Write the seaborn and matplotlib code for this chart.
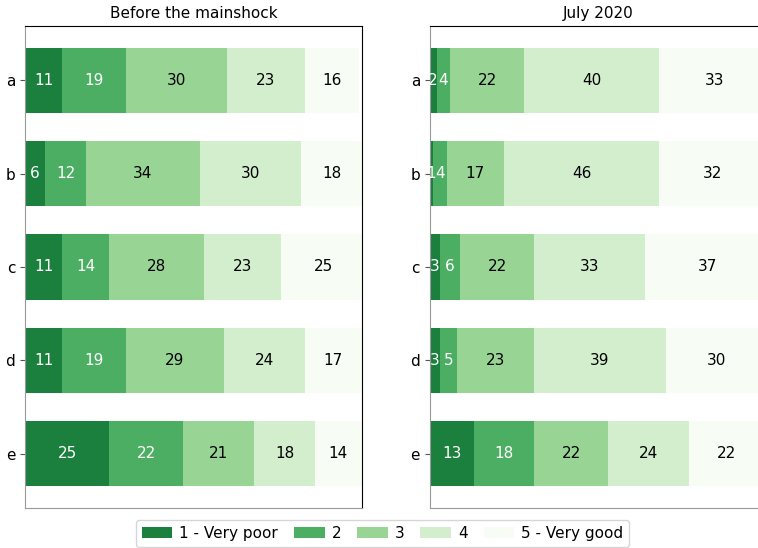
import numpy as np
import pandas as pd
import matplotlib
matplotlib.use("Agg")
import matplotlib.pyplot as plt
import seaborn as sns
from matplotlib.patches import Patch

categories = ["a", "b", "c", "d", "e"]
levels = ["1 - Very poor", "2", "3", "4", "5 - Very good"]
titles = ["Before the mainshock", "July 2020"]

before_1 = [11, 6, 11, 11, 25]
before_2 = [19, 12, 14, 19, 22]
before_3 = [30, 34, 28, 29, 21]
before_4 = [23, 30, 23, 24, 18]
before_5 = [16, 18, 25, 17, 14]

july_1 = [2, 1, 3, 3, 13]
july_2 = [4, 4, 6, 5, 18]
july_3 = [22, 17, 22, 23, 22]
july_4 = [40, 46, 33, 39, 24]
july_5 = [33, 32, 37, 30, 22]

colors = ["#1b7f3e", "#4cae62", "#98d594", "#d3eecd", "#f7fcf5"]
text_colors = ["white", "white", "black", "black", "black"]

panels = [
    [before_1, before_2, before_3, before_4, before_5],
    [july_1, july_2, july_3, july_4, july_5],
]

fig = plt.figure(figsize=(7.58, 5.48), dpi=100)
ax_positions = [[0.033, 0.073, 0.4446, 0.8796], [0.567, 0.073, 0.4446, 0.8796]]

for pos, series, title in zip(ax_positions, panels, titles):
    ax = fig.add_axes(pos)
    vals = np.array(series, dtype=float)  # shape (levels, categories)
    cum = np.cumsum(vals, axis=0)
    # draw from the outermost cumulative layer inward so each level shows
    for k in range(len(levels) - 1, -1, -1):
        df = pd.DataFrame({"cat": categories, "val": cum[k]})
        sns.barplot(data=df, x="val", y="cat", orient="h", color=colors[k],
                    saturation=1, width=0.7, linewidth=0, ax=ax)
    for k in range(len(levels)):
        left = cum[k] - vals[k]
        for i, c in enumerate(categories):
            ax.text(left[i] + vals[k][i] / 2, i, f"{int(vals[k][i])}",
                    ha="center", va="center", fontsize=11, color=text_colors[k])
    ax.set_xlim(0, 100)
    ax.set_ylim(4.584, -0.584)
    ax.set_xticks([])
    ax.set_xlabel("")
    ax.set_ylabel("")
    ax.tick_params(axis="y", labelsize=11, length=3.5, color="#555555")
    ax.set_title(title, fontsize=11, pad=6)
    ax.spines["left"].set_color("#999999")
    ax.spines["bottom"].set_color("#999999")
    ax.spines["top"].set_color("black")
    ax.spines["right"].set_color("black")

handles = [Patch(facecolor=c, edgecolor="none", label=l) for c, l in zip(colors, levels)]
fig.legend(handles=handles, loc="lower center", bbox_to_anchor=(0.5046, 0.002),
           borderaxespad=0, ncol=5, fontsize=11, frameon=True,
           handlelength=2.0, columnspacing=1.05, handletextpad=0.45)

fig.savefig("out.png", dpi=100)
